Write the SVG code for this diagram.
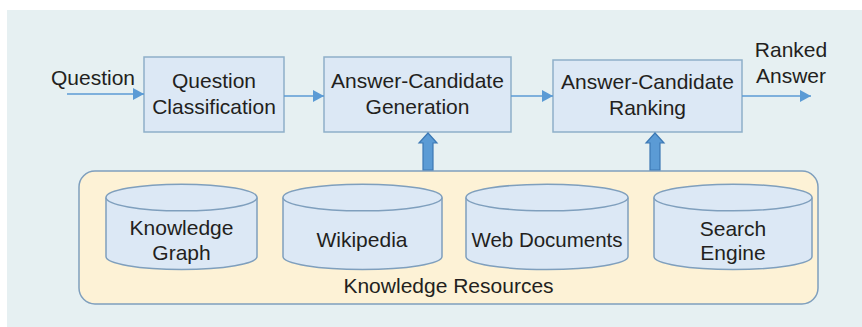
<svg xmlns="http://www.w3.org/2000/svg" width="862" height="327" viewBox="0 0 862 327">
<style>
text{font-family:"Liberation Sans",Arial,sans-serif;font-size:21px;fill:#231f20;text-anchor:middle}
.box{fill:#dce8f5;stroke:#8eafc9;stroke-width:1.5}
.cyl{fill:#dce8f5;stroke:#7f9fbd;stroke-width:1.5}
.flow{stroke:#5b9bd5;stroke-width:1.6;fill:none}
.block{fill:#5b9bd5;stroke:#3c78b4;stroke-width:1.2}
</style>
<defs>
<marker id="ah" markerUnits="userSpaceOnUse" markerWidth="12" markerHeight="12" refX="11" refY="6" orient="auto">
<path d="M0,0 L11,6 L0,12 Z" fill="#5b9bd5"/>
</marker>
</defs>
<rect x="7" y="10" width="855" height="317" fill="#e6f0f2"/>
<g id="resources">
<rect x="79" y="171" width="739" height="133" rx="16" fill="#fdf2d6" stroke="#7f9fbd" stroke-width="1.5"/>
<text x="448.5" y="293">Knowledge Resources</text>
</g>
<g id="qc">
<rect class="box" x="144" y="57" width="140" height="75"/>
<text x="214" y="88">Question</text>
<text x="214" y="114">Classification</text>
</g>
<g id="acg">
<rect class="box" x="324" y="57" width="187" height="75"/>
<text x="417.5" y="88">Answer-Candidate</text>
<text x="417.5" y="114">Generation</text>
</g>
<g id="acr">
<rect class="box" x="553" y="60" width="189" height="72"/>
<text x="647.5" y="89">Answer-Candidate</text>
<text x="647.5" y="115">Ranking</text>
</g>
<g id="kg">
<path class="cyl" d="M106,197.5 V256.5 A75.5,13 0 0 0 257,256.5 V197.5"/>
<ellipse class="cyl" cx="181.5" cy="197.5" rx="75.5" ry="13.3"/>
<text x="181.5" y="235">Knowledge</text>
<text x="181.5" y="260">Graph</text>
</g>
<g id="wiki">
<path class="cyl" d="M283,197.5 V256.5 A79.5,13 0 0 0 442,256.5 V197.5"/>
<ellipse class="cyl" cx="362.5" cy="197.5" rx="79.5" ry="13.3"/>
<text x="362" y="247">Wikipedia</text>
</g>
<g id="web">
<path class="cyl" d="M466,197.5 V256.5 A81,13 0 0 0 628,256.5 V197.5"/>
<ellipse class="cyl" cx="547" cy="197.5" rx="81" ry="13.3"/>
<text x="547" y="247" style="font-size:20.5px">Web Documents</text>
</g>
<g id="search">
<path class="cyl" d="M654,197.5 V256.5 A79,13 0 0 0 812,256.5 V197.5"/>
<ellipse class="cyl" cx="733" cy="197.5" rx="79" ry="13.3"/>
<text x="733" y="236">Search</text>
<text x="733" y="260">Engine</text>
</g>
<g id="labels">
<text x="93" y="85">Question</text>
<text x="791" y="57">Ranked</text>
<text x="791" y="83">Answer</text>
</g>
<g id="connectors">
<line class="flow" x1="67" y1="94" x2="144" y2="94" marker-end="url(#ah)"/>
<line class="flow" x1="284" y1="96" x2="324" y2="96" marker-end="url(#ah)"/>
<line class="flow" x1="511" y1="96" x2="553" y2="96" marker-end="url(#ah)"/>
<line class="flow" x1="742" y1="96" x2="811" y2="96" marker-end="url(#ah)"/>
<path class="block" d="M428,133 L437,143 L433,143 L433,170 L423,170 L423,143 L419,143 Z"/>
<path class="block" d="M655,133 L664,143 L660,143 L660,170 L650,170 L650,143 L646,143 Z"/>
</g>
</svg>
